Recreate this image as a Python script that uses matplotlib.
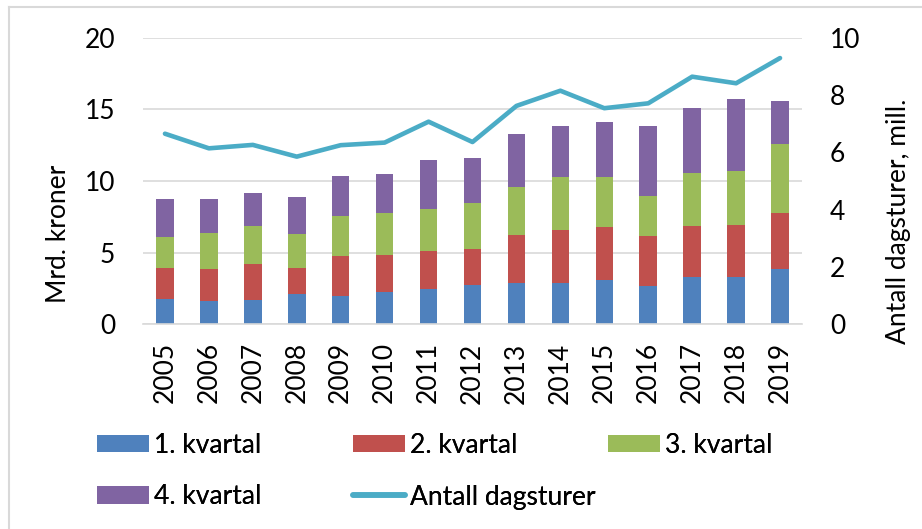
import matplotlib
matplotlib.use("Agg")
import matplotlib.pyplot as plt
import numpy as np
from matplotlib.patches import Patch
from matplotlib.lines import Line2D

# ---- data ----
years = ["2005", "2006", "2007", "2008", "2009", "2010", "2011", "2012",
         "2013", "2014", "2015", "2016", "2017", "2018", "2019"]
kv1 = [1.75, 1.65, 1.68, 2.09, 1.96, 2.23, 2.49, 2.72, 2.91, 2.86, 3.11, 2.70, 3.30, 3.28, 3.88]
kv2 = [2.20, 2.23, 2.55, 1.86, 2.79, 2.63, 2.61, 2.56, 3.35, 3.73, 3.71, 3.49, 3.59, 3.63, 3.91]
kv3 = [2.15, 2.50, 2.63, 2.33, 2.83, 2.89, 2.95, 3.21, 3.35, 3.68, 3.49, 2.79, 3.65, 3.80, 4.80]
kv4 = [2.63, 2.37, 2.31, 2.63, 2.76, 2.77, 3.40, 3.10, 3.68, 3.58, 3.80, 4.85, 4.54, 5.00, 3.00]
dagsturer = [6.65, 6.14, 6.26, 5.85, 6.25, 6.34, 7.07, 6.36, 7.62, 8.15, 7.54, 7.71, 8.64, 8.41, 9.29]

series_labels = ["1. kvartal", "2. kvartal", "3. kvartal", "4. kvartal"]
line_label = "Antall dagsturer"
colors = ["#4F81BD", "#C0504D", "#9BBB59", "#8064A2"]
line_color = "#4BACC6"
grid_color = "#D9D9D9"

plt.rcParams["font.family"] = ["Lato", "DejaVu Sans"]
FS = 19

W, H = 922, 529
fig = plt.figure(figsize=(W / 100, H / 100), dpi=100)

left, right, top, bottom = 143, 802, 37.7, 324.3
ax = fig.add_axes([left / W, 1 - bottom / H, (right - left) / W, (bottom - top) / H])
x = np.arange(len(years))
quarters = [kv1, kv2, kv3, kv4]
base = np.zeros(len(years))
for vals, c in zip(quarters, colors):
    ax.bar(x, vals, width=0.4, bottom=base, color=c, zorder=2)
    base = base + np.array(vals)

ax.set_xlim(-0.5, len(years) - 0.5)
ax.set_ylim(0, 20)
ax.set_yticks([0, 5, 10, 15, 20])
ax.set_xticks(x)
ax.set_xticklabels(years, rotation=90)
ax.set_axisbelow(True)
ax.yaxis.grid(True, color=grid_color, lw=1.2)
for s in ["top", "left", "right"]:
    ax.spines[s].set_visible(False)
ax.spines["bottom"].set_color(grid_color)
ax.spines["bottom"].set_linewidth(1.2)
ax.tick_params(axis="both", length=0, labelsize=FS)
ax.tick_params(axis="y", pad=20)
ax.tick_params(axis="x", pad=13)

ax2 = ax.twinx()
ax2.plot(x, dagsturer, color=line_color, lw=3.3, solid_capstyle="round",
         solid_joinstyle="round", zorder=3)
ax2.set_ylim(0, 10)
ax2.set_yticks([0, 2, 4, 6, 8, 10])
for s in ["top", "left", "right", "bottom"]:
    ax2.spines[s].set_visible(False)
ax2.tick_params(axis="y", length=0, labelsize=FS, pad=20)

fig.text(58 / W, 1 - 234 / H, "Mrd. kroner", rotation=90, ha="center", va="center", fontsize=FS)
fig.text(898 / W, 1 - 221 / H, "Antall dagsturer, mill.", rotation=90, ha="center", va="center", fontsize=FS)

# legend: one entry per legend, placed on a 3-column grid
handles = [Patch(facecolor=c, edgecolor="none") for c in colors]
handles.append(Line2D([0], [0], color=line_color, lw=4, solid_capstyle="round"))
labels = series_labels + [line_label]
pos = [(97, 445.5), (353, 445.5), (608, 445.5), (97, 497), (353, 497)]
hl_px = 52
for h, lab, (px, py) in zip(handles, labels, pos):
    leg = fig.legend([h], [lab], loc="center left",
                     bbox_to_anchor=(px / W, 1 - py / H), frameon=False,
                     fontsize=FS, borderpad=0, borderaxespad=0,
                     handlelength=hl_px / (FS * 100 / 72), handleheight=17 / (FS * 100 / 72),
                     handletextpad=0.2)
    fig.add_artist(leg)

# chart border (light grey, partly outside the image)
fig.add_artist(Line2D([8.5 / W, 8.5 / W], [-0.1, 1 - 6.5 / H], color=grid_color, lw=1.5,
                      transform=fig.transFigure))
fig.add_artist(Line2D([8.5 / W, 1.1], [1 - 6.5 / H, 1 - 6.5 / H], color=grid_color, lw=1.5,
                      transform=fig.transFigure))

fig.savefig("out.png", dpi=100)
